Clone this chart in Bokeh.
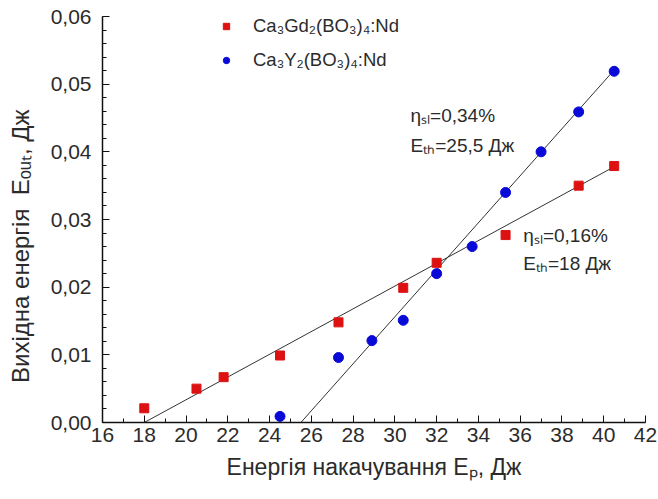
from bokeh.plotting import figure
from bokeh.models import (ColumnDataSource, Range1d, SingleIntervalTicker, CustomJSTickFormatter,
                          Legend, LegendItem)
from bokeh.core.properties import value
from bokeh.embed import file_html
from bokeh.resources import INLINE

# ---- data ----
gd_x = [18.0, 20.5, 21.8, 24.5, 27.3, 30.4, 32.0, 35.3, 38.8, 40.5]
gd_y = [0.0021, 0.0050, 0.0067, 0.0099, 0.0148, 0.0199, 0.0236, 0.0277, 0.0350, 0.0379]
y_x = [24.5, 27.3, 28.9, 30.4, 32.0, 33.7, 35.3, 37.0, 38.8, 40.5]
y_y = [0.0009, 0.0096, 0.0121, 0.0151, 0.0220, 0.0260, 0.0340, 0.0400, 0.0459, 0.0519]
gd_fit_x = [18.0, 40.5]
gd_fit_y = [0.0, 0.0378]
y_fit_x = [25.5, 40.5]
y_fit_y = [0.0, 0.0521]

legend_labels = ["Ca₃Gd₂(BO₃)₄:Nd", "Ca₃Y₂(BO₃)₄:Nd"]
note_x = [30.75, 30.75, 36.15, 36.15]
note_y = [0.0454, 0.0410, 0.0277, 0.0235]
note_text = ["ηₛₗ=0,34%", "Eₜₕ=25,5 Дж", "ηₛₗ=0,16%", "Eₜₕ=18 Дж"]

x_label = "Енергія накачування Eₚ, Дж"
y_label = "Вихідна енергія\u00a0\u00a0Eₒᵤₜ, Дж"

FONT = "Liberation Sans"
TXT = "#2b2b2b"

p = figure(width=658, height=499, output_backend="svg", toolbar_location=None,
           x_range=Range1d(16, 42), y_range=Range1d(0, 0.06),
           min_border_left=102, min_border_right=13, min_border_top=16, min_border_bottom=77)
p.outline_line_color = None
p.grid.visible = False
p.background_fill_color = "white"

# fit lines
p.line(gd_fit_x, gd_fit_y, line_color="#333333", line_width=1)
p.line(y_fit_x, y_fit_y, line_color="#333333", line_width=1)

r_gd = p.scatter(gd_x, gd_y, marker="square", size=9, fill_color="#dd1111", line_color="#dd1111")
r_y = p.scatter(y_x, y_y, marker="circle", size=10, fill_color="#0a0ad8", line_color="#0a0ad8")

src = ColumnDataSource(dict(x=note_x, y=note_y, t=note_text))
p.text(x="x", y="y", text="t", source=src, text_font=value(FONT), text_font_size="19px",
       text_color=TXT, text_align="left", text_baseline="middle")

legend = Legend(items=[LegendItem(label=legend_labels[0], renderers=[r_gd]),
                       LegendItem(label=legend_labels[1], renderers=[r_y])],
                location=(114, 351), padding=0, margin=0, spacing=12,
                label_height=16, glyph_height=16, glyph_width=20, label_standoff=17,
                background_fill_alpha=0, border_line_alpha=0,
                label_text_font=FONT, label_text_font_size="18.5px", label_text_color=TXT)
p.add_layout(legend, "center")

fmt = CustomJSTickFormatter(code="return tick.toFixed(2).replace('.', ',');")
p.yaxis.ticker = SingleIntervalTicker(interval=0.01, num_minor_ticks=5)
p.yaxis.formatter = fmt
p.xaxis.ticker = SingleIntervalTicker(interval=2, num_minor_ticks=2)

for ax in (p.xaxis, p.yaxis):
    ax.major_tick_in = 7
    ax.major_tick_out = 0
    ax.minor_tick_in = 4
    ax.minor_tick_out = 0
    ax.axis_line_width = 1.5
    ax.axis_line_color = "#111111"
    ax.major_tick_line_color = "#111111"
    ax.minor_tick_line_color = "#111111"
    ax.major_label_text_font = FONT
    ax.major_label_text_font_size = "21px"
    ax.major_label_text_color = TXT
    ax.axis_label_text_font = FONT
    ax.axis_label_text_font_size = "23px"
    ax.axis_label_text_font_style = "normal"
    ax.axis_label_text_color = TXT

p.xaxis.axis_label = x_label
# trailing non-breaking spaces push the visible title lower, as in the reference
p.yaxis.axis_label = y_label + "\u00a0" * 8
p.yaxis.axis_label_text_font_size = "24px"
p.xaxis.major_label_standoff = 5
p.yaxis.major_label_standoff = 11
p.xaxis.axis_label_standoff = 9
p.yaxis.axis_label_standoff = 14

open("out.html", "w").write(file_html(p, INLINE))
